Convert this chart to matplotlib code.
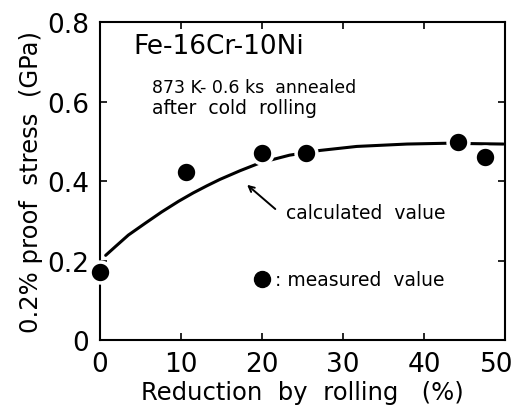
import numpy as np
import matplotlib
matplotlib.use("Agg")
import matplotlib.pyplot as plt
import matplotlib.transforms as mtransforms

# measured 0.2% proof stress
meas_red = [0, 10.6, 20, 25.4, 44.2, 47.5]
meas_ps = [0.171, 0.423, 0.470, 0.470, 0.498, 0.460]

# calculated curve
calc_red = [0.7, 1.9, 3.5, 5.6, 7.6, 9.7, 11.5, 13.2, 14.8, 17.3, 19.8,
            23.4, 27.2, 31.7, 37.9, 42.8, 49.8]
calc_ps = [0.213, 0.235, 0.264, 0.294, 0.322, 0.349, 0.370, 0.388, 0.404,
           0.426, 0.446, 0.465, 0.477, 0.487, 0.493, 0.495, 0.493]

xticks = [0, 10, 20, 30, 40, 50]
yticks = [0, 0.2, 0.4, 0.6, 0.8]
ylabels = ["0", "0.2", "0.4", "0.6", "0.8"]

plt.rcParams['font.family'] = ['DejaVu Sans']

fig = plt.figure(figsize=(5.19, 4.14), dpi=100)
ax = fig.add_axes([0.1927, 0.1763, 0.7803, 0.7681])

ax.plot(calc_red, calc_ps, color='black', lw=2.2, zorder=2, clip_on=False,
        solid_capstyle='round', solid_joinstyle='round')
ax.plot(meas_red, meas_ps, 'o', color='black', ms=15, mec='white', mew=2.5,
        zorder=3, clip_on=False)

ax.set_xlim(0, 50)
ax.set_ylim(0, 0.8)
ax.set_xticks(xticks)
ax.set_xticklabels([str(t) for t in xticks])
ax.set_yticks(yticks)
ax.set_yticklabels(ylabels)
ax.tick_params(direction='in', length=5, width=1.2, top=True, right=True,
               labelsize=19)
ax.tick_params(axis='x', pad=8)
ax.tick_params(axis='y', pad=8)
for s in ax.spines.values():
    s.set_linewidth(1.5)

# keep the last x label inside the canvas
last = ax.get_xticklabels()[-1]
last.set_transform(last.get_transform() +
                   mtransforms.ScaledTranslation(-6 / 72, 0, fig.dpi_scale_trans))

ax.set_xlabel("Reduction  by  rolling   (%)", fontsize=17.5, labelpad=2)
ax.set_ylabel("0.2% proof  stress  (GPa)", fontsize=17.5, labelpad=3)

ax.text(4.1, 0.74, "Fe-16Cr-10Ni", fontsize=19, va='center')
ax.text(6.4, 0.637, "873 K- 0.6 ks  annealed", fontsize=12.5, va='center')
ax.text(6.4, 0.586, "after  cold  rolling", fontsize=13.5, va='center')

ax.annotate("", xy=(17.9, 0.395), xytext=(21.9, 0.325),
            arrowprops=dict(arrowstyle='->', color='black', lw=1.4))
ax.text(23.0, 0.322, "calculated  value", fontsize=13.5, va='center')

ax.plot([20], [0.153], 'o', color='black', ms=11.5)
ax.text(21.6, 0.153, ": measured  value", fontsize=13.5, va='center')

fig.savefig("out.png", dpi=100)
